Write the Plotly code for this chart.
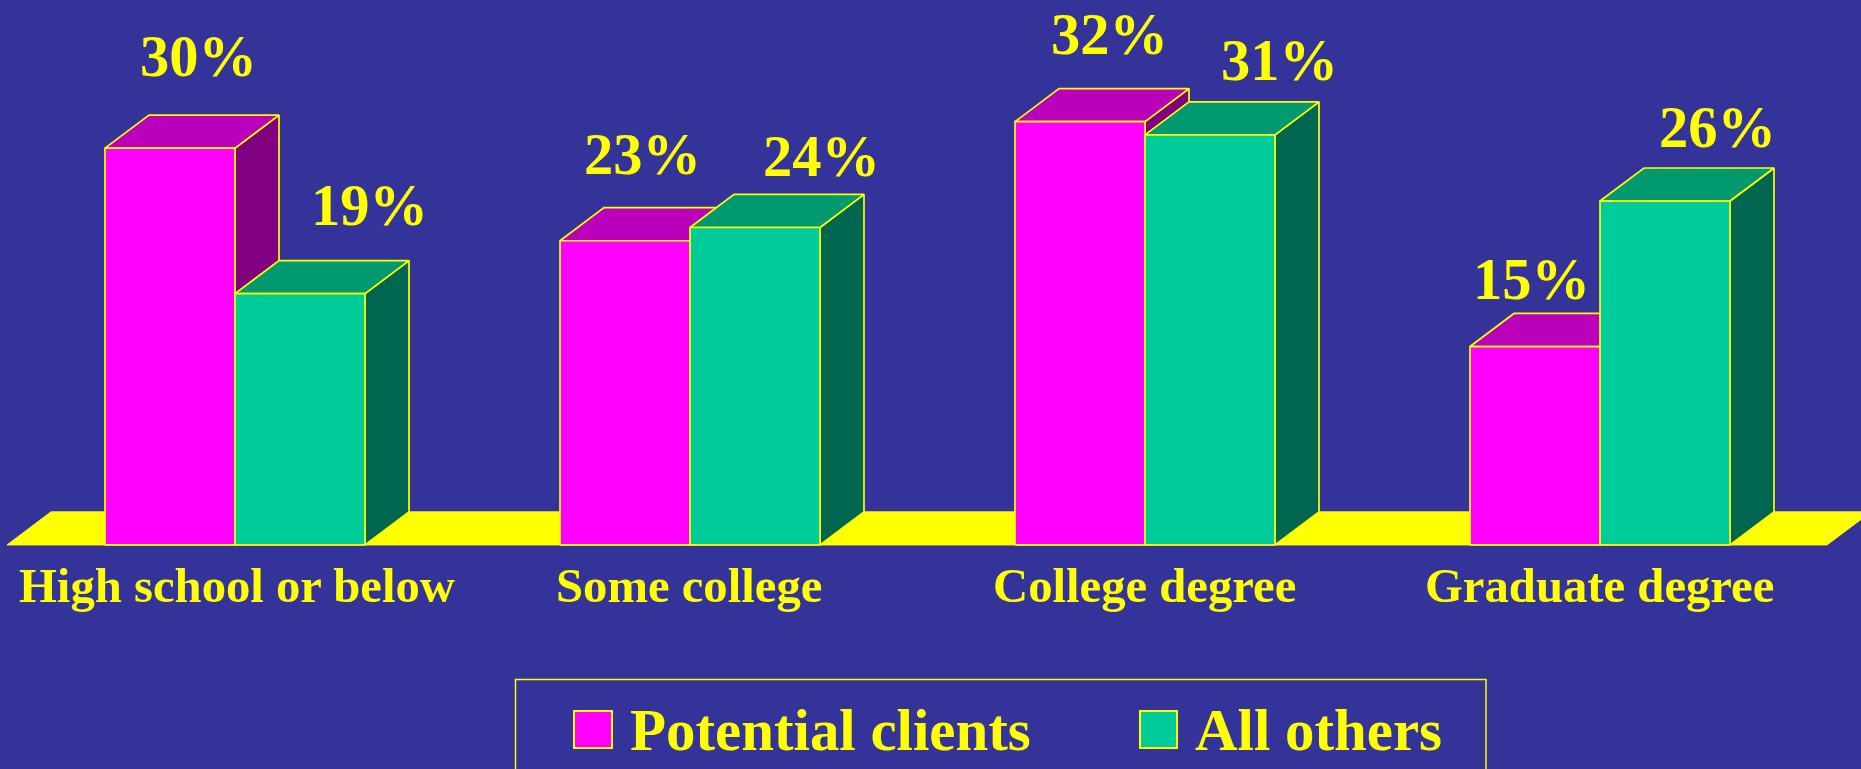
import plotly.graph_objects as go

# Survey results: education level by respondent group (percent)
categories = ["High school or below", "Some college", "College degree", "Graduate degree"]
potential_clients = [30, 23, 32, 15]
all_others = [19, 24, 31, 26]
series_names = ["Potential clients", "All others"]

W, H = 1861, 769
BG = "#333399"
YELLOW = "#FFFF00"
SERIF = "Liberation Serif"

# Axis frame: one unit of x is one category slot, y is in percent
X_RANGE = [-0.5165, 3.5736]
Y_RANGE = [-16.94, 41.20]

# Extrusion of the pseudo-3D bars, in axis units
BAR_W = 0.2857
DEPTH_X = 0.0967
DEPTH_Y = 2.5

# Hand-placed percentage labels: pixel shifts from each bar's front-top centre
CLIENT_LABEL_SHIFT = [(28, 57), (17, 52), (29, 53), (-4, 33)]
OTHER_LABEL_SHIFT = [(69, 54), (66, 37), (69, 40), (52, 39)]
CATEGORY_LABEL_SHIFT = [2, -1, -1, -1]

CLIENT_SHADES = ("#FF00FF", "#BB00BB", "#800080")
OTHER_SHADES = ("#00CC99", "#009970", "#006650")


def poly(xs, ys, fill, width=1.7):
    return go.Scatter(
        x=xs + xs[:1], y=ys + ys[:1], mode="lines", fill="toself",
        fillcolor=fill, line=dict(color=YELLOW, width=width),
        hoverinfo="skip", showlegend=False,
    )


def box(left, value, shades):
    right = left + BAR_W
    front, top, side = shades
    return [
        poly([right, right + DEPTH_X, right + DEPTH_X, right],
             [0, DEPTH_Y, value + DEPTH_Y, value], side),
        poly([left, left + DEPTH_X, right + DEPTH_X, right],
             [value, value + DEPTH_Y, value + DEPTH_Y, value], top),
        poly([left, right, right, left], [0, 0, value, value], front),
    ]


fig = go.Figure()

# Yellow floor the bars stand on
floor_left = X_RANGE[0] + 7 / W * (X_RANGE[1] - X_RANGE[0])
floor_right = X_RANGE[1] - 34 / W * (X_RANGE[1] - X_RANGE[0])
fig.add_trace(poly([floor_left, floor_right, floor_right + DEPTH_X, floor_left + DEPTH_X],
                   [0, 0, DEPTH_Y, DEPTH_Y], YELLOW, width=1))

for i in range(len(categories)):
    fig.add_traces(box(i - BAR_W, potential_clients[i], CLIENT_SHADES))
    fig.add_traces(box(i, all_others[i], OTHER_SHADES))

annotations = []
for i, cat in enumerate(categories):
    annotations.append(dict(
        x=i, y=(H - 586) / H, xref="x", yref="paper", text=cat, showarrow=False,
        xanchor="center", yanchor="middle", xshift=CATEGORY_LABEL_SHIFT[i],
        font=dict(family=SERIF, size=48.7, color=YELLOW, weight="bold"),
    ))
    for value, shift, cx in (
        (potential_clients[i], CLIENT_LABEL_SHIFT[i], i - BAR_W / 2),
        (all_others[i], OTHER_LABEL_SHIFT[i], i + BAR_W / 2),
    ):
        annotations.append(dict(
            x=cx, y=value, xref="x", yref="y", text=f"{value}%", showarrow=False,
            xanchor="center", yanchor="bottom", xshift=shift[0], yshift=shift[1],
            font=dict(family=SERIF, size=58.5, color=YELLOW, weight="bold"),
        ))

# Legend panel, running off the lower edge of the page
LEGEND_LEFT, LEGEND_RIGHT, LEGEND_TOP = 515.5, 1486, 679.5
SWATCHES = [(574, 612, "#FF00FF", 628), (1140, 1177, "#00CC99", 1193)]
SWATCH_TOP, SWATCH_BOTTOM = 711, 748


def px(x):
    return x / W


def py(y):
    return (H - y) / H


shapes = [dict(type="rect", xref="paper", yref="paper",
               x0=px(LEGEND_LEFT), x1=px(LEGEND_RIGHT), y0=py(LEGEND_TOP), y1=py(H + 20),
               line=dict(color=YELLOW, width=1.5), fillcolor=BG, layer="above")]
for (x0, x1, color, text_x), name in zip(SWATCHES, series_names):
    shapes.append(dict(type="rect", xref="paper", yref="paper",
                       x0=px(x0), x1=px(x1), y0=py(SWATCH_BOTTOM), y1=py(SWATCH_TOP),
                       line=dict(color=YELLOW, width=2), fillcolor=color, layer="above"))
    annotations.append(dict(
        x=px(text_x), y=py(730), xref="paper", yref="paper", text=name, showarrow=False,
        xanchor="left", yanchor="middle",
        font=dict(family=SERIF, size=58.9, color=YELLOW, weight="bold"),
    ))

fig.update_layout(
    width=W, height=H, autosize=False,
    margin=dict(l=0, r=0, t=0, b=0),
    paper_bgcolor=BG, plot_bgcolor=BG,
    showlegend=False,
    xaxis=dict(range=X_RANGE, visible=False, fixedrange=True),
    yaxis=dict(range=Y_RANGE, visible=False, fixedrange=True),
    annotations=annotations,
    shapes=shapes,
)

fig.write_html("out.html", config=dict(displayModeBar=False))
